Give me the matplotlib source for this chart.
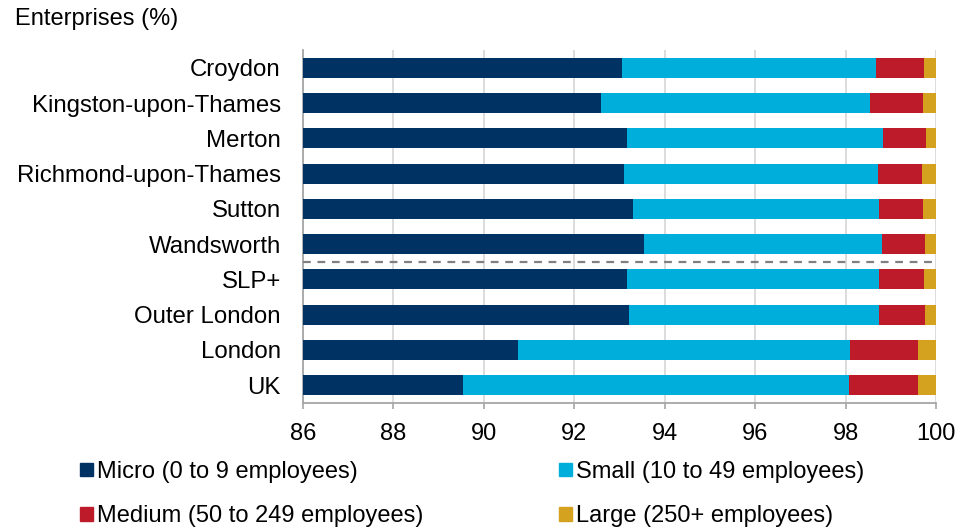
import matplotlib
matplotlib.use("Agg")
from matplotlib import pyplot as plt
from matplotlib.patches import Patch

# Share of enterprises by size band (%)
areas = ['Croydon', 'Kingston-upon-Thames', 'Merton', 'Richmond-upon-Thames',
         'Sutton', 'Wandsworth', 'SLP+', 'Outer London', 'London', 'UK']
micro = [93.05, 92.60, 93.16, 93.10, 93.29, 93.55, 93.16, 93.21, 90.76, 89.54]
small = [5.62, 5.95, 5.66, 5.61, 5.45, 5.25, 5.57, 5.52, 7.33, 8.53]
medium = [1.07, 1.16, 0.96, 0.99, 0.97, 0.96, 1.01, 1.02, 1.50, 1.54]
large = [0.26, 0.29, 0.22, 0.30, 0.29, 0.24, 0.26, 0.25, 0.41, 0.39]

size_labels = ['Micro (0 to 9 employees)', 'Small (10 to 49 employees)',
               'Medium (50 to 249 employees)', 'Large (250+ employees)']
colours = ['#003263', '#00AEDB', '#BE1B2A', '#D5A21F']

xticks = [86, 88, 90, 92, 94, 96, 98, 100]

plt.rcParams['font.family'] = ['Liberation Sans', 'DejaVu Sans']

fig = plt.figure(figsize=(9.65, 5.28), dpi=100)
ax = fig.add_axes([0.314, 0.237, 0.656, 0.668])

ypos = list(range(len(areas)))
left = [0.0] * len(areas)
for values, colour in zip([micro, small, medium, large], colours):
    ax.barh(ypos, values, left=left, height=0.57, color=colour, zorder=3)
    left = [l + v for l, v in zip(left, values)]

# separator between the boroughs and the comparison areas
ax.axhline(5.5, color='#808080', linewidth=1.6, linestyle=(0, (3.5, 3)), zorder=4)

ax.set_xlim(86, 100)
ax.set_ylim(9.5, -0.5)
ax.set_xticks(xticks)
ax.set_xticklabels([str(t) for t in xticks], fontsize=17)
ax.set_yticks(ypos)
ax.set_yticklabels(areas, fontsize=17.3)

ax.grid(axis='x', color='#D9D9D9', linewidth=1.3, zorder=0)
ax.tick_params(axis='y', length=0, pad=16)
ax.tick_params(axis='x', length=4.5, width=1.2, color='#A6A6A6', pad=10)

for side in ['top', 'right']:
    ax.spines[side].set_visible(False)
for side in ['left', 'bottom']:
    ax.spines[side].set_color('#A6A6A6')
    ax.spines[side].set_linewidth(1.3)

fig.text(15 / 965, 1 - 19 / 528, 'Enterprises (%)', fontsize=17, va='center')

handles = [Patch(color=c) for c in colours]
order = [0, 2, 1, 3]
fig.legend([handles[i] for i in order], [size_labels[i] for i in order],
           loc='upper left', bbox_to_anchor=(80 / 965, 1 - 461 / 528),
           ncol=2, frameon=False, borderpad=0, borderaxespad=0,
           fontsize=17,
           handlelength=0.55, handleheight=0.5, handletextpad=0.17,
           labelspacing=0.95, columnspacing=5.75)

fig.savefig('out.png', dpi=100)
